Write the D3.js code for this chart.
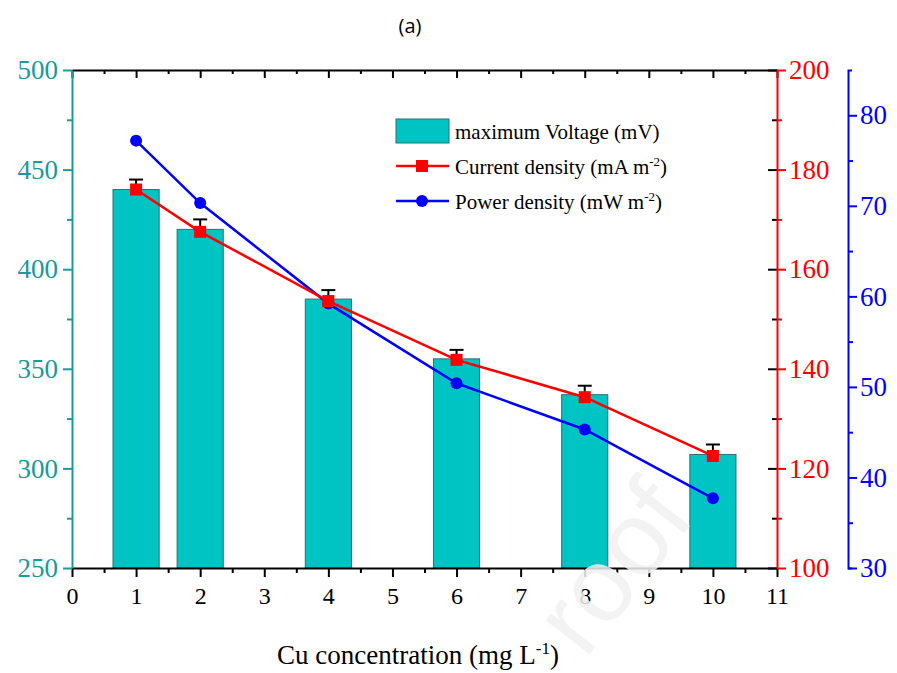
<!DOCTYPE html>
<html>
<head>
<meta charset="utf-8">
<script src="https://cdn.jsdelivr.net/npm/d3@7"></script>
<style>
body { margin: 0; background: #fff; }
</style>
</head>
<body>
<div id="chart"></div>
<script>
// données
let conc = [1, 2, 4, 6, 8, 10]
let voltage = [440, 420, 385, 355, 337, 307]
let voltErr = [5, 5, 4.5, 4.5, 4.5, 5]
let current = [176, 167.5, 153.6, 141.8, 134.3, 122.5]
let power = [77.2, 70.3, 59.2, 50.4, 45.3, 37.7]
let xTicks = [0, 1, 2, 3, 4, 5, 6, 7, 8, 9, 10, 11]
let voltTicks = [250, 300, 350, 400, 450, 500]
let curTicks = [100, 120, 140, 160, 180, 200]
let powTicks = [30, 40, 50, 60, 70, 80]

let W = 897, H = 673
let mLeft = 72, mRight = 777, mTop = 70, mBottom = 568
let teal = "#1a9a9a"
let serif = "Liberation Serif, Times New Roman, serif"

let svg = d3.select("#chart").append("svg").attr("width", W).attr("height", H)
  .attr("font-family", serif)

let x = d3.scaleLinear().domain([0, 11]).range([mLeft, mRight])
let yV = d3.scaleLinear().domain([250, 500]).range([mBottom, mTop])
let yC = d3.scaleLinear().domain([100, 200]).range([mBottom, mTop])
let yP = d3.scaleLinear().domain([30, 85]).range([mBottom, mTop])

// titre
svg.append("text").attr("x", 410).attr("y", 33).attr("text-anchor", "middle")
  .attr("font-family", "Open Sans, DejaVu Sans, sans-serif").attr("font-size", 20).text("(a)")

/* barres */
let bw = x(0.72) - x(0)
svg.selectAll(".bar").data(conc).enter().append("rect")
  .attr("class", "bar")
  .attr("x", d => x(d) - bw / 2)
  .attr("y", (d, i) => yV(voltage[i]))
  .attr("width", bw)
  .attr("height", (d, i) => mBottom - yV(voltage[i]))
  .attr("fill", "#00c4c4").attr("stroke", "#2f6f6f").attr("stroke-width", 1)

// barres d'erreur
let eb = svg.append("g").attr("stroke", "#000").attr("stroke-width", 2)
conc.forEach(function(d, i) {
  eb.append("line").attr("x1", x(d)).attr("x2", x(d))
    .attr("y1", yV(voltage[i])).attr("y2", yV(voltage[i] + voltErr[i]))
  eb.append("line").attr("x1", x(d) - 7).attr("x2", x(d) + 7)
    .attr("y1", yV(voltage[i] + voltErr[i])).attr("y2", yV(voltage[i] + voltErr[i]))
})

/* lignes */
let lineC = d3.line().x((d, i) => x(conc[i])).y(d => yC(d))
let lineP = d3.line().x((d, i) => x(conc[i])).y(d => yP(d))
svg.append("path").attr("d", lineP(power)).attr("fill", "none").attr("stroke", "#0000ff").attr("stroke-width", 2.5)
svg.append("path").attr("d", lineC(current)).attr("fill", "none").attr("stroke", "#ff0000").attr("stroke-width", 2.5)
svg.selectAll(".pt").data(power).enter().append("circle")
  .attr("cx", (d, i) => x(conc[i])).attr("cy", d => yP(d)).attr("r", 6).attr("fill", "#0000ff")
svg.selectAll(".sq").data(current).enter().append("rect")
  .attr("x", (d, i) => x(conc[i]) - 6).attr("y", d => yC(d) - 6)
  .attr("width", 12).attr("height", 12).attr("fill", "#ff0000")

/* axes */
function styleAx(g, col, size) {
  g.attr("font-family", serif).attr("font-size", size)
  g.selectAll("path").attr("stroke", col).attr("stroke-width", 2)
  g.selectAll("line").attr("stroke", col).attr("stroke-width", 2)
  g.selectAll("text").attr("fill", col).attr("font-family", serif).attr("font-size", size)
}

// axe x bas
let gx = svg.append("g").attr("transform", `translate(0,${mBottom})`)
  .call(d3.axisBottom(x).tickValues(xTicks).tickSize(9).tickPadding(10).tickSizeOuter(0))
styleAx(gx, "#000", 24)
svg.append("g").attr("transform", `translate(0,${mBottom})`)
  .call(d3.axisBottom(x).tickValues(d3.range(0.5, 11, 1)).tickSize(5).tickFormat("").tickSizeOuter(0))
  .call(g => styleAx(g, "#000", 1)).select("path").remove()

// axe x haut (cadre)
let gt = svg.append("g").attr("transform", `translate(0,${mTop})`)
  .call(d3.axisTop(x).tickValues(xTicks).tickSize(-8).tickFormat("").tickSizeOuter(0))
styleAx(gt, "#000", 1)
svg.append("g").attr("transform", `translate(0,${mTop})`)
  .call(d3.axisTop(x).tickValues(d3.range(0.5, 11, 1)).tickSize(-4).tickFormat("").tickSizeOuter(0))
  .call(g => styleAx(g, "#000", 1)).select("path").remove()

// axe gauche (tension)
let gl = svg.append("g").attr("transform", `translate(${mLeft},0)`)
  .call(d3.axisLeft(yV).tickValues(voltTicks).tickSize(9).tickPadding(5).tickSizeOuter(0))
styleAx(gl, teal, 27)
svg.append("g").attr("transform", `translate(${mLeft},0)`)
  .call(d3.axisLeft(yV).tickValues(d3.range(275, 500, 50)).tickSize(5).tickFormat("").tickSizeOuter(0))
  .call(g => styleAx(g, teal, 1)).select("path").remove()

// axe droit rouge (courant)
svg.append("g").attr("transform", `translate(${mRight},0)`)
  .call(d3.axisLeft(yC).tickValues(curTicks).tickSize(9).tickFormat("").tickSizeOuter(0))
  .call(g => styleAx(g, "#000", 1)).select("path").remove()
svg.append("g").attr("transform", `translate(${mRight},0)`)
  .call(d3.axisLeft(yC).tickValues(d3.range(110, 200, 20)).tickSize(5).tickFormat("").tickSizeOuter(0))
  .call(g => styleAx(g, "#000", 1)).select("path").remove()
let gr = svg.append("g").attr("transform", `translate(${mRight},0)`)
  .call(d3.axisRight(yC).tickValues(curTicks).tickSize(9).tickPadding(3).tickSizeOuter(0))
styleAx(gr, "#ff0000", 27)
svg.append("g").attr("transform", `translate(${mRight},0)`)
  .call(d3.axisRight(yC).tickValues(d3.range(110, 200, 20)).tickSize(5).tickFormat("").tickSizeOuter(0))
  .call(g => styleAx(g, "#ff0000", 1)).select("path").remove()

// axe droit bleu (puissance)
let gb = svg.append("g").attr("transform", `translate(848,0)`)
  .call(d3.axisRight(yP).tickValues(powTicks).tickSize(9).tickPadding(3).tickSizeOuter(4))
styleAx(gb, "#0000ff", 27)
svg.append("g").attr("transform", `translate(848,0)`)
  .call(d3.axisRight(yP).tickValues(d3.range(35, 85, 10)).tickSize(5).tickFormat("").tickSizeOuter(0))
  .call(g => styleAx(g, "#0000ff", 1)).select("path").remove()

// titre axe x
let xt = svg.append("text").attr("x", 418).attr("y", 664).attr("text-anchor", "middle")
  .attr("font-size", 27).attr("fill", "#000")
xt.append("tspan").text("Cu concentration (mg L")
xt.append("tspan").attr("dy", -10).attr("font-size", 17).text("-1")
xt.append("tspan").attr("dy", 10).text(")")

/* légende */
let lg = svg.append("g").attr("transform", "translate(396,0)").attr("font-size", 21)
lg.append("rect").attr("x", 0).attr("y", 119).attr("width", 53).attr("height", 24)
  .attr("fill", "#00c4c4").attr("stroke", "#2f6f6f")
lg.append("text").attr("x", 59).attr("y", 139).text("maximum Voltage (mV)")

lg.append("line").attr("x1", 0).attr("x2", 53).attr("y1", 166).attr("y2", 166).attr("stroke", "#ff0000").attr("stroke-width", 2.5)
lg.append("rect").attr("x", 20).attr("y", 160).attr("width", 12).attr("height", 12).attr("fill", "#ff0000")
let t2 = lg.append("text").attr("x", 59).attr("y", 174)
t2.append("tspan").text("Current density (mA m")
t2.append("tspan").attr("dy", -8).attr("font-size", 13).text("-2")
t2.append("tspan").attr("dy", 8).text(")")

lg.append("line").attr("x1", 0).attr("x2", 53).attr("y1", 201).attr("y2", 201).attr("stroke", "#0000ff").attr("stroke-width", 2.5)
lg.append("circle").attr("cx", 26).attr("cy", 201).attr("r", 6).attr("fill", "#0000ff")
let t3 = lg.append("text").attr("x", 59).attr("y", 209)
t3.append("tspan").text("Power density (mW m")
t3.append("tspan").attr("dy", -8).attr("font-size", 13).text("-2")
t3.append("tspan").attr("dy", 8).text(")")

// filigrane
svg.append("text").attr("transform", "translate(585,660) rotate(-52)")
  .attr("font-family", "Liberation Sans, sans-serif").attr("font-size", 105)
  .attr("fill", "#f2f2f2").attr("opacity", 0.85).text("roof")
</script>
</body>
</html>
